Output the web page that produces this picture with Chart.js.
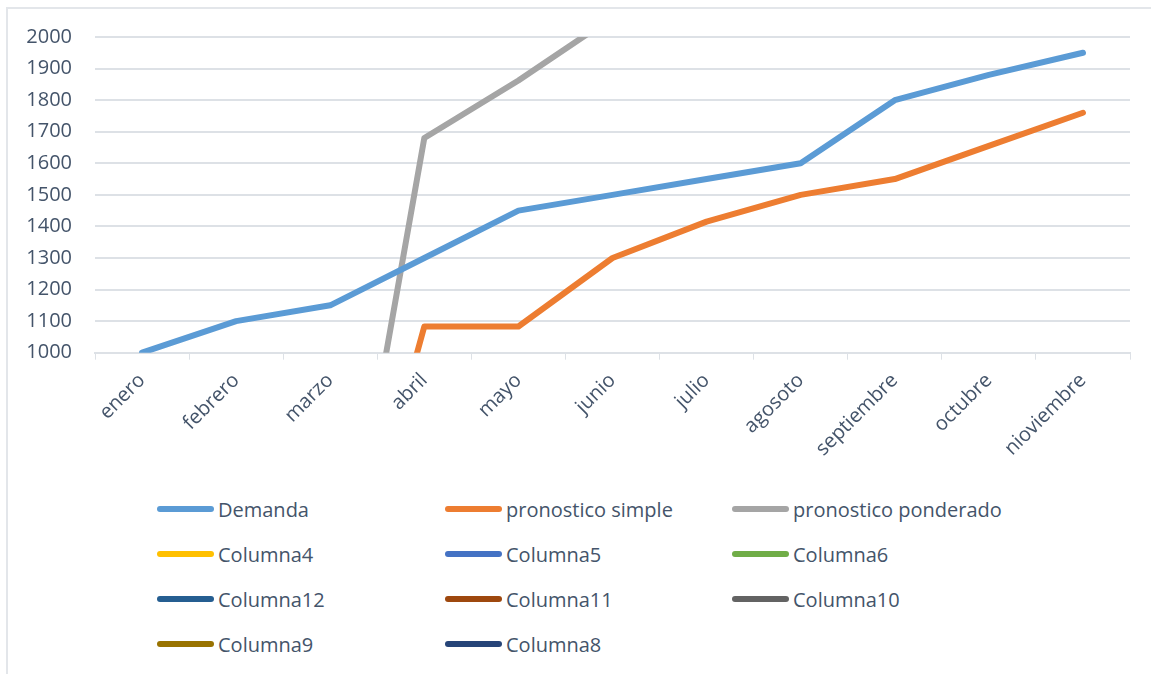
<!DOCTYPE html>
<html>
<head>
<meta charset="utf-8">
<script src="https://cdn.jsdelivr.net/npm/chart.js@4.4.1/dist/chart.umd.min.js"></script>
<style>
    body { margin: 0; background: #fff; }
    #page { position: relative; width: 1151px; height: 674px; overflow: hidden; }
    #frame {
        position: absolute; left: 6px; top: 7px; width: 1200px; height: 700px;
        border-top: 2px solid #E3E6EA; border-left: 2px solid #E3E6EA;
    }
    #chartBox { position: absolute; left: 0; top: 0; width: 1151px; height: 470px; }
    #legend {
        position: absolute; left: 157px; top: 495px; width: 900px;
        display: grid; grid-template-columns: 288px 287px 300px; row-gap: 17px;
        font-family: 'Open Sans', sans-serif; font-size: 20px; color: #44546A;
    }
    .item { display: flex; align-items: center; height: 28px; white-space: nowrap; }
    .swatch { width: 57px; height: 6px; border-radius: 3px; margin-right: 4px; }
</style>
</head>
<body>
<div id="page">
    <div id="frame"></div>
    <div id="chartBox"><canvas id="lineChart"></canvas></div>
    <div id="legend"></div>
</div>
<script>
// Chart data
const months = ['enero', 'febrero', 'marzo', 'abril', 'mayo', 'junio', 'julio',
    'agosoto', 'septiembre', 'octubre', 'nioviembre'];
const demanda = [1000, 1100, 1150, 1300, 1450, 1500, 1550, 1600, 1800, 1880, 1950];
const pronosticoSimple = [null, null, 0, 1083, 1083, 1300, 1415, 1500, 1550, 1655, 1760];
const pronosticoPonderado = [null, null, 0, 1680, 1862, 2063, null, null, null, null, null];
const emptySeries = ['Columna4', 'Columna5', 'Columna6', 'Columna12', 'Columna11',
    'Columna10', 'Columna9', 'Columna8'];
const emptyColors = ['#FFC000', '#4472C4', '#70AD47', '#255E91', '#9E480E',
    '#636363', '#997300', '#264478'];
const yTicks = [1000, 1100, 1200, 1300, 1400, 1500, 1600, 1700, 1800, 1900, 2000];

const textColor = '#44546A';
const gridColor = '#DDE1E6';

const datasets = [
    { label: 'Demanda', data: demanda, borderColor: '#5B9BD5' },
    { label: 'pronostico simple', data: pronosticoSimple, borderColor: '#ED7D31' },
    { label: 'pronostico ponderado', data: pronosticoPonderado, borderColor: '#A5A5A5' }
].concat(emptySeries.map((name, i) => ({
    label: name,
    data: months.map(() => null),
    borderColor: emptyColors[i]
})));

datasets.forEach(ds => {
    ds.backgroundColor = ds.borderColor;
    ds.borderWidth = 6;
    ds.pointRadius = 0;
    ds.tension = 0;
    ds.borderCapStyle = 'round';
    ds.borderJoinStyle = 'round';
    ds.spanGaps = false;
});

const config = {
    type: 'line',
    data: { labels: months, datasets: datasets },
    options: {
        responsive: true,
        maintainAspectRatio: false,
        animation: false,
        layout: { padding: { left: 0, right: 21, top: 37, bottom: 0 } },
        plugins: {
            legend: { display: false },
            tooltip: { enabled: false }
        },
        scales: {
            x: {
                offset: true,
                afterFit: (scale) => {
                    // rotated labels may overhang; don't let them push the plot
                    scale.paddingLeft = 0;
                    scale.paddingRight = 0;
                },
                grid: {
                    offset: true,
                    drawOnChartArea: false,
                    drawTicks: true,
                    tickLength: 7,
                    color: gridColor
                },
                border: { display: true, color: gridColor, width: 2 },
                ticks: {
                    minRotation: 45,
                    maxRotation: 45,
                    padding: 9,
                    color: textColor,
                    font: { family: "'Open Sans', sans-serif", size: 20 }
                }
            },
            y: {
                min: 1000,
                max: 2000,
                afterBuildTicks: (axis) => {
                    axis.ticks = yTicks.map(v => ({ value: v }));
                },
                afterFit: (scale) => {
                    scale.width = 95;
                    scale.paddingTop = 0;
                    scale.paddingBottom = 0;
                },
                grid: { color: gridColor, lineWidth: 2, drawTicks: false },
                border: { display: false },
                ticks: {
                    padding: 23,
                    color: textColor,
                    font: { family: "'Open Sans', sans-serif", size: 20 },
                    callback: (value) => String(value)
                }
            }
        }
    }
};

const chart = new Chart(document.getElementById('lineChart'), config);

// HTML legend in a 3-column grid, built from the chart's datasets
const legendEl = document.getElementById('legend');
chart.data.datasets.forEach(ds => {
    const item = document.createElement('div');
    item.className = 'item';
    const sw = document.createElement('span');
    sw.className = 'swatch';
    sw.style.background = ds.borderColor;
    const txt = document.createElement('span');
    txt.textContent = ds.label;
    item.appendChild(sw);
    item.appendChild(txt);
    legendEl.appendChild(item);
});
</script>
</body>
</html>
